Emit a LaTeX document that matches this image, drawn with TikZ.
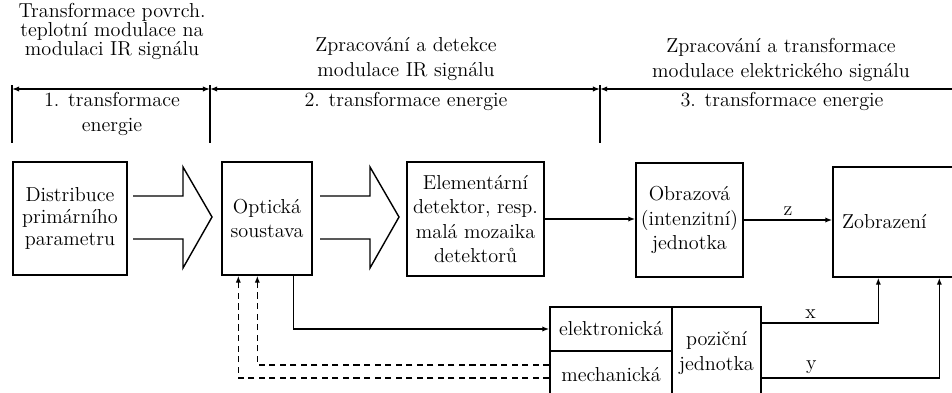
\documentclass[tikz,border=0pt]{standalone}
\usepackage{fontspec}
\usetikzlibrary{arrows.meta,calc}

\tikzset{
  blok/.style={draw, line width=.8pt, align=center, inner sep=2pt,
    font=\fontsize{11.5}{14}\selectfont},
  popis/.style={align=center, inner sep=0pt, font=\fontsize{11.5}{14}\selectfont},
  carkovane/.style={dash pattern=on 3.5pt off 2.5pt},
}

\begin{document}
\begin{tikzpicture}[x=.02cm, y=-.02cm, line width=.8pt, >={Latex[length=4pt,width=3pt]}]
    \useasboundingbox (0,0) rectangle (952,392);
    \clip (0,0) rectangle (952,392);
    % headings
    \node [popis, font=\fontsize{11.5}{10.8}\selectfont] (h1) at (112,31) {Transformace povrch.\\teplotní modulace na\\modulaci IR signálu};
    \node [popis] (h2) at (406,59) {Zpracování a detekce\\modulace IR signálu};
    \node [popis] (h3) at (781,60) {Zpracování a transformace\\modulace elektrického signálu};
    \node [popis] (e1) at (112,114) {1. transformace\\energie};
    \node [popis] (e2) at (406,101) {2. transformace energie};
    \node [popis] (e3) at (782,101) {3. transformace energie};
    % dimension line
    \coordinate (m0) at (12,89);
    \coordinate (m1) at (210,89);
    \coordinate (m2) at (600,89);
    \coordinate (m3) at (990,89);
    \foreach \m in {m0,m1,m2}
        \draw (\m) +(0,-4) -- +(0,54);
    \draw [<->] (m0) -- (m1);
    \draw [<->] (m1) -- (m2);
    \draw [<-] (m2) -- (m3);
    % blocks
    \node [blok, minimum width=2.28cm, minimum height=2.26cm, font=\fontsize{11.5}{12.4}\selectfont] (dist) at (70,218.5) {Distribuce\\primárního\\parametru};
    \node [blok, minimum width=1.8cm, minimum height=2.26cm] (opt) at (267,218.5) {Optická\\soustava};
    \node [blok, minimum width=2.74cm, minimum height=2.28cm] (det) at (475.5,219) {Elementární\\detektor, resp.\\malá mozaika\\detektorů};
    \node [blok, minimum width=2.14cm, minimum height=2.28cm] (obr) at (689.5,220) {Obrazová\\(intenzitní)\\jednotka};
    \node [blok, minimum width=3.2cm, minimum height=2.2cm, text width=2.84cm, align=left, inner xsep=.18cm] (zob) at (913,222) {Zobrazení};
    \node [blok, minimum width=2.44cm, minimum height=.88cm] (elek) at (611,329) {elektronická};
    \node [blok, minimum width=2.44cm, minimum height=.96cm] (mech) at (611,375) {mechanická};
    \node [blok, minimum width=1.78cm, minimum height=1.84cm] (poz) at (716.5,353) {poziční\\jednotka};
    % hollow arrows
    \foreach \s/\h in {133/183,320/370}
        \draw (\s,196) -- (\h,196) -- (\h,167) -- ({\h+29},217) -- (\h,268) -- (\h,239) -- (\s,239);
    % connectors
    \draw [->] (det.east) -- (det.east -| obr.west);
    \draw [->] (obr.east) -- (obr.east -| zob.west) node [midway, above, popis, yshift=2pt] {z};
    \draw [->] ($(opt.south east)+(-19,0)$) |- (elek.west);
    \draw [->, carkovane] ($(mech.west)+(0,-10)$) -| ($(opt.south west)+(36,0)$);
    \draw [->, carkovane] ($(mech.west)+(0,3)$) -| ($(opt.south west)+(17,0)$);
    \draw [->] ($(poz.east)+(0,-30)$) -| ($(zob.south west)+(46,0)$) node [pos=.21, above, popis, yshift=2pt] {x};
    \draw [->] ($(poz.east)+(0,25)$) -| ($(zob.south west)+(107,0)$) node [pos=.14, above, popis, yshift=2pt] {y};
\end{tikzpicture}
\end{document}
